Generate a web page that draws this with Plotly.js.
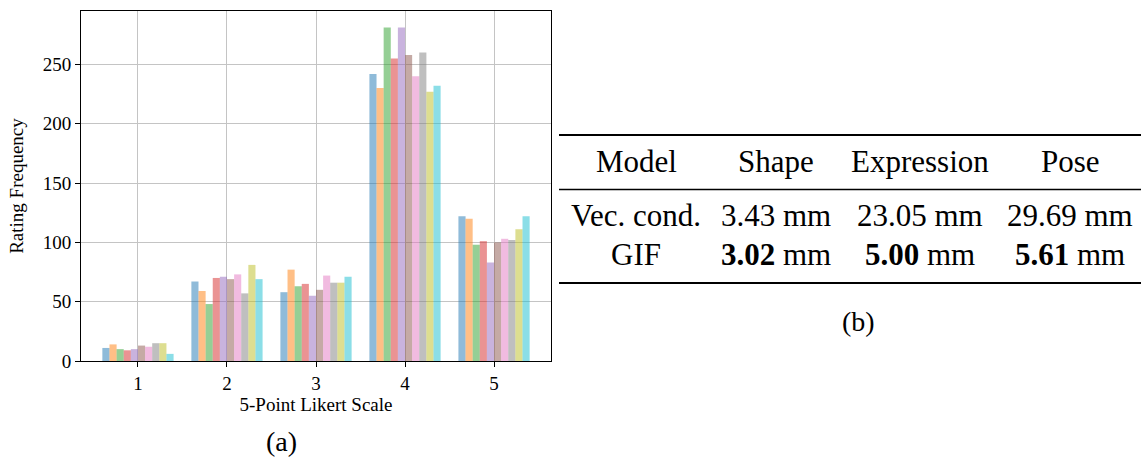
<!DOCTYPE html>
<html>
<head>
<meta charset="utf-8">
<script src="https://cdn.plot.ly/plotly-3.0.1.min.js"></script>
<style>html,body{margin:0;padding:0;background:#fff;}#chart{width:1141px;height:459px;}</style>
</head>
<body>
<div id="chart"></div>
<script>
// ---- Data (a): rating frequency per Likert level, 10 series ----
const likertLevels = [1, 2, 3, 4, 5];
const series1  = [11, 67, 58, 242, 122];
const series2  = [14, 59, 77, 230, 120];
const series3  = [10, 48, 63, 281, 98];
const series4  = [9, 70, 65, 255, 101];
const series5  = [10, 71, 55, 281, 83];
const series6  = [13, 69, 60, 258, 100];
const series7  = [12, 73, 72, 240, 103];
const series8  = [15, 57, 66, 260, 102];
const series9  = [15, 81, 66, 227, 111];
const series10 = [6, 69, 71, 232, 122];
const yTicks = [0, 50, 100, 150, 200, 250];

// ---- Data (b): table ----
const tableHeader = ["Model", "Shape", "Expression", "Pose"];
const tableModels = ["Vec. cond.", "GIF"];
const tableShape = ["3.43", "3.02"];
const tableExpression = ["23.05", "5.00"];
const tablePose = ["29.69", "5.61"];
const tableBold = [false, true];

const allSeries = [series1, series2, series3, series4, series5, series6, series7, series8, series9, series10];
const colors = ["rgba(31,119,180,0.5)","rgba(255,127,14,0.5)","rgba(44,160,44,0.5)","rgba(214,39,40,0.5)",
  "rgba(148,103,189,0.5)","rgba(140,86,75,0.5)","rgba(227,119,194,0.5)","rgba(127,127,127,0.5)",
  "rgba(188,189,34,0.5)","rgba(23,190,207,0.5)"];

const traces = allSeries.map((vals, i) => ({
  type: "bar", x: likertLevels, y: vals, name: "S" + (i + 1),
  marker: {color: colors[i], line: {width: 0}}, hoverinfo: "y"
}));

const FONT = "Liberation Serif";
// plot area in pixels
const L = 81, R = 551, T = 11, B = 361, W = 1141, H = 459;
const px = x => (x - L) / (R - L);
const py = y => (B - y) / (B - T);

const annotations = [];
const shapes = [];
const colX = [636, 776, 919.5, 1070];
const headerY = 162, rowY = [215, 255];
const tFont = () => ({family: FONT, size: 31, color: "#000"});

tableHeader.forEach((h, j) => annotations.push({
  xref: "paper", yref: "paper", x: px(colX[j]), y: py(headerY), text: h, showarrow: false,
  xanchor: "center", yanchor: "middle", font: tFont()
}));
tableModels.forEach((m, i) => {
  const b = s => tableBold[i] ? "<b>" + s + "</b>" : s;
  const cells = [m, b(tableShape[i]) + " mm", b(tableExpression[i]) + " mm", b(tablePose[i]) + " mm"];
  cells.forEach((c, j) => annotations.push({
    xref: "paper", yref: "paper", x: px(colX[j]), y: py(rowY[i]), text: c, showarrow: false,
    xanchor: "center", yanchor: "middle", font: tFont()
  }));
});
// booktabs rules
[[135, 2.2], [189.5, 1.3], [283, 2.2]].forEach(([y, w]) => shapes.push({
  type: "line", xref: "paper", yref: "paper", x0: px(559), x1: px(1141), y0: py(y), y1: py(y),
  line: {color: "#000", width: w}
}));
// sub-captions
annotations.push({xref: "paper", yref: "paper", x: px(281), y: py(442), text: "(a)", showarrow: false,
  xanchor: "center", yanchor: "middle", font: {family: FONT, size: 28, color: "#000"}});
annotations.push({xref: "paper", yref: "paper", x: px(858), y: py(321), text: "(b)", showarrow: false,
  xanchor: "center", yanchor: "middle", font: {family: FONT, size: 28, color: "#000"}});

const layout = {
  width: W, height: H,
  margin: {l: L, r: W - R, t: T, b: H - B, pad: 0},
  paper_bgcolor: "#fff", plot_bgcolor: "#fff",
  showlegend: false,
  barmode: "group", bargap: 0.2, bargroupgap: 0,
  font: {family: FONT, size: 18, color: "#000"},
  xaxis: {
    range: [0.36, 5.64], tickvals: likertLevels, ticktext: likertLevels.map(String),
    showgrid: true, gridcolor: "#c4c4c4", gridwidth: 1,
    showline: true, mirror: true, linecolor: "#000", linewidth: 1,
    ticks: "outside", ticklen: 5, tickwidth: 1, tickcolor: "#000",
    zeroline: false, tickfont: {family: FONT, size: 19, color: "#000"},
    title: {text: "5-Point Likert Scale", font: {family: FONT, size: 19, color: "#000"}, standoff: 2}
  },
  yaxis: {
    range: [0, 295], tickvals: yTicks,
    showgrid: true, gridcolor: "#c4c4c4", gridwidth: 1,
    showline: true, mirror: true, linecolor: "#000", linewidth: 1,
    ticks: "outside", ticklen: 5, tickwidth: 1, tickcolor: "#000",
    zeroline: false, tickfont: {family: FONT, size: 19, color: "#000"},
    title: {text: "Rating Frequency", font: {family: FONT, size: 19, color: "#000"}, standoff: 14}
  },
  annotations: annotations,
  shapes: shapes
};

Plotly.newPlot("chart", traces, layout, {staticPlot: true, displayModeBar: false});
</script>
</body>
</html>
